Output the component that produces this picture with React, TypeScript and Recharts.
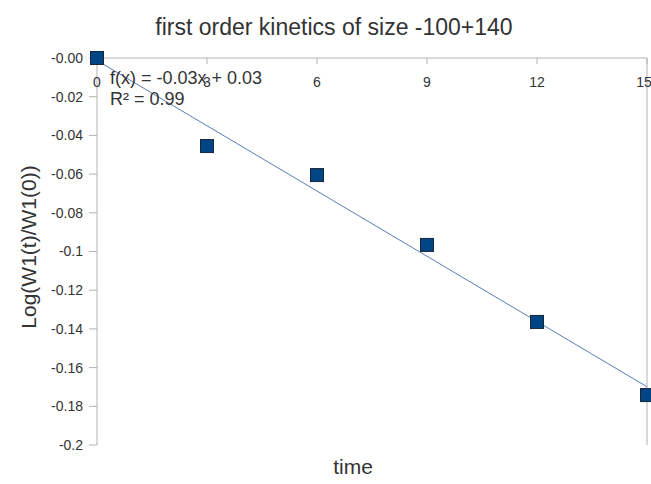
import React from 'react';
import {
  ScatterChart, Scatter, XAxis, YAxis, ReferenceLine,
} from 'recharts';

const times = [0, 3, 6, 9, 12, 15];
const logRatio = [0, -0.0455, -0.0605, -0.0966, -0.1364, -0.1742];

// trend line end points
const trendTimes = [0, 15];
const trendValues = [-0.0013, -0.1699];

const xTicks = [0, 3, 6, 9, 12, 15];
const yTicks = [0, -0.02, -0.04, -0.06, -0.08, -0.1, -0.12, -0.14, -0.16, -0.18, -0.2];
const yTickLabels = ['-0.00', '-0.02', '-0.04', '-0.06', '-0.08', '-0.1', '-0.12', '-0.14', '-0.16', '-0.18', '-0.2'];

const points = times.map((t, i) => ({ x: t, y: logRatio[i] }));
const trend = trendTimes.map((t, i) => ({ x: t, y: trendValues[i] }));

const font = '"Liberation Sans", Arial, sans-serif';
const axisColor = '#b3b3b3';
const textColor = '#333333';

const SquareMarker = (props: any) => {
  const { cx, cy } = props;
  return (
    <rect
      x={cx - 6.5}
      y={cy - 6.5}
      width={13}
      height={13}
      fill="#004586"
      stroke="#1a2636"
      strokeWidth={1}
    />
  );
};

const App: React.FC = () => {
  return (
    <div style={{ position: 'absolute', left: 0, top: 0, width: 651, height: 484, background: '#fff', fontFamily: font }}>
      <ScatterChart width={651} height={484} margin={{ top: 58, right: 4, bottom: 39, left: 0 }}>
        <XAxis
          type="number"
          dataKey="x"
          domain={[0, 15]}
          ticks={xTicks}
          orientation="top"
          mirror
          stroke={axisColor}
          tickSize={6}
          tickMargin={13}
          tick={{ fill: textColor, fontSize: 14, fontFamily: font }}
        />
        <YAxis
          type="number"
          dataKey="y"
          domain={[-0.2, 0]}
          ticks={yTicks}
          width={97}
          stroke={axisColor}
          tickSize={8}
          tickMargin={6}
          tickFormatter={(v: number) => yTickLabels[yTicks.indexOf(v)] ?? String(v)}
          tick={{ fill: textColor, fontSize: 14, fontFamily: font }}
        />
        <ReferenceLine x={15} stroke={axisColor} strokeWidth={1} />
        <Scatter
          data={trend}
          line={{ stroke: '#5b7db8', strokeWidth: 1 }}
          shape={() => null}
          isAnimationActive={false}
        />
        <Scatter data={points} shape={SquareMarker} isAnimationActive={false} />
      </ScatterChart>
      <svg width={651} height={484} style={{ position: 'absolute', left: 0, top: 0, pointerEvents: 'none' }}>
        <text x={334} y={35} textAnchor="middle" fontSize={23} fill={textColor} fontFamily={font}>
          first order kinetics of size -100+140
        </text>
        <text x={110} y={84} fontSize={18} fill={textColor} fontFamily={font}>f(x) = -0.03x + 0.03</text>
        <text x={110} y={105} fontSize={18} fill={textColor} fontFamily={font}>R² = 0.99</text>
        <text
          x={0}
          y={0}
          transform="translate(36 247) rotate(-90)"
          textAnchor="middle"
          fontSize={21}
          fill={textColor}
          fontFamily={font}
        >
          Log(W1(t)/W1(0))
        </text>
        <text x={353} y={474} textAnchor="middle" fontSize={21} fill={textColor} fontFamily={font}>time</text>
      </svg>
    </div>
  );
};

export default App;
